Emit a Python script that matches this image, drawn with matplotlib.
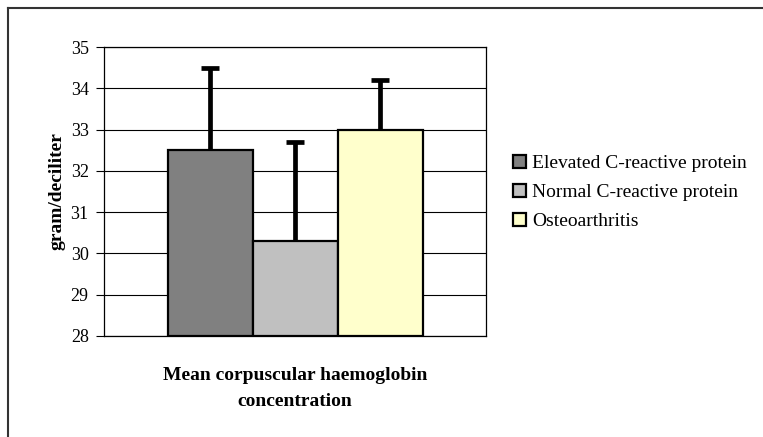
import matplotlib
matplotlib.use("Agg")
import matplotlib.pyplot as plt
from matplotlib.lines import Line2D

# values (gram/deciliter)
series = ["Elevated C-reactive protein", "Normal C-reactive protein", "Osteoarthritis"]
means = [32.5, 30.3, 33.0]
errors = [2.0, 2.4, 1.2]
colors = ["#808080", "#C0C0C0", "#FFFFCC"]
category = "Mean corpuscular haemoglobin\nconcentration"
yticks = [28, 29, 30, 31, 32, 33, 34, 35]

plt.rcParams["font.family"] = ["Liberation Serif", "DejaVu Serif"]

W, H = 763, 437
fig = plt.figure(figsize=(W / 100, H / 100), dpi=100)

# outer frame (only top and left edges are visible in the crop)
fig.add_artist(Line2D([8 / W, 8 / W], [0, 1 - 8 / H], color="#333333", lw=1.5))
fig.add_artist(Line2D([8 / W, 1], [1 - 8 / H, 1 - 8 / H], color="#333333", lw=1.5))

ax = fig.add_axes([104 / W, (H - 336) / H, 382 / W, 289 / H])
width = 85 / 382
xs = [-width, 0, width]
for x, m, e, c, name in zip(xs, means, errors, colors, series):
    ax.bar(x, m - 28, bottom=28, width=width, color=c, edgecolor="black",
           linewidth=1.6, label=name, zorder=2)
    eb = ax.errorbar(x, m, yerr=[[0], [e]], fmt="none", ecolor="black",
                     elinewidth=3.4, capsize=6.5, capthick=3.4, zorder=3)
    # only the upper whisker carries a cap
    eb[1][0].set_visible(False)
    eb[1][1].set_solid_capstyle("round")

ax.set_xlim(-0.5, 0.5)
ax.set_ylim(28, 35)
ax.set_yticks(yticks)
ax.set_xticks([])
ax.yaxis.grid(True, color="black", linewidth=0.8)
ax.set_axisbelow(True)
for s in ax.spines.values():
    s.set_color("black")
    s.set_linewidth(0.9)
ax.tick_params(axis="y", direction="out", length=6, width=0.8, labelsize=13, pad=5)
ax.set_ylabel("gram/deciliter", fontsize=14, fontweight="bold", labelpad=4)
ax.set_xlabel(category, fontsize=14, fontweight="bold", labelpad=22, linespacing=1.75)

leg = fig.legend(loc="upper left", bbox_to_anchor=(505 / W, 1 - 147 / H),
                 frameon=False, fontsize=14, handlelength=0.7, handleheight=0.7,
                 handletextpad=0.3, labelspacing=0.58, borderaxespad=0)

fig.savefig("out.png", dpi=100)
